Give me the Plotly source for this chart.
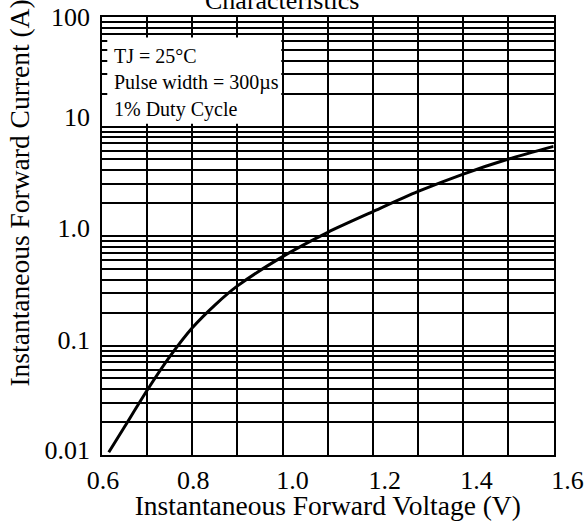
import plotly.graph_objects as go

# ---- data ----
voltage = [0.615, 0.65, 0.70, 0.75, 0.80, 0.85, 0.90, 1.00, 1.10, 1.20, 1.30, 1.40, 1.50, 1.60]
current = [0.0106, 0.0181, 0.039, 0.079, 0.145, 0.234, 0.350, 0.648, 1.08, 1.67, 2.55, 3.68, 5.05, 6.59]

x_grid = [0.6, 0.7, 0.8, 0.9, 1.0, 1.1, 1.2, 1.3, 1.4, 1.5, 1.6]
x_ticks = [0.6, 0.8, 1.0, 1.2, 1.4, 1.6]
x_tick_labels = ["0.6", "0.8", "1.0", "1.2", "1.4", "1.6"]

y_grid = [m * 10.0 ** k for k in (-2, -1, 0, 1) for m in range(1, 10)] + [100]
y_ticks = [0.01, 0.1, 1, 10, 100]
y_tick_labels = ["0.01", "0.1", "1.0", "10", "100"]

note_lines = ["TJ = 25°C", "Pulse width = 300µs", "1% Duty Cycle"]
title_text = "Characteristics"
x_title = "Instantaneous Forward Voltage (V)"
y_title = "Instantaneous Forward Current (A)"

# ---- style / placement (label nudges as in the reference artwork) ----
x_label_shift = [0.002, 0.002, 0.022, 0.026, 0.029, 0.031]   # in volts
y_label_shift = [0.046, 0.05, 0.073, 0.091, 0.0]             # in decades
FONT = "Liberation Serif"
X_RANGE = [0.6, 1.6]
PLOT_W = 451.6          # grid area width in px
PAPER_W = 485.0         # 587 - left margin
X_DOM = PLOT_W / PAPER_W
X2_RANGE = [X_RANGE[0], X_RANGE[0] + (X_RANGE[1] - X_RANGE[0]) / X_DOM]

fig = go.Figure()
fig.add_trace(go.Scatter(x=voltage, y=current, mode="lines",
                         line=dict(color="black", width=3, shape="spline", smoothing=0.8),
                         showlegend=False, hoverinfo="skip"))
# invisible companion trace so the label axes are drawn
fig.add_trace(go.Scatter(x=voltage, y=current, mode="lines", xaxis="x2", yaxis="y2",
                         line=dict(color="rgba(0,0,0,0)", width=1),
                         showlegend=False, hoverinfo="skip"))

grid_axis = dict(showgrid=True, gridcolor="black", gridwidth=2, showline=True,
                 linecolor="black", linewidth=2, mirror=True, zeroline=False,
                 ticks="", showticklabels=False, automargin=False)

fig.update_layout(
    width=587, height=521,
    margin=dict(l=102, r=0, t=17, b=66, autoexpand=False),
    paper_bgcolor="white", plot_bgcolor="rgba(0,0,0,0)",
    font=dict(family=FONT, color="black"),
    xaxis=dict(range=X_RANGE, domain=[0, X_DOM], tickvals=x_grid, anchor="y",
               title=dict(text=x_title, font=dict(family=FONT, size=27.5), standoff=40),
               **grid_axis),
    yaxis=dict(type="log", range=[-2, 2], tickvals=y_grid, anchor="x", **grid_axis),
    xaxis2=dict(domain=[0, 1], anchor="y2", side="bottom", range=X2_RANGE, showgrid=False,
                zeroline=False, showline=False, ticks="", automargin=False,
                tickvals=[v + s for v, s in zip(x_ticks, x_label_shift)],
                ticktext=x_tick_labels, tickfont=dict(family=FONT, size=26),
                ticklabelstandoff=7),
    yaxis2=dict(domain=[0, 1], anchor="x2", side="left", type="log", range=[-2, 2],
                showgrid=False, zeroline=False, showline=False, ticks="", automargin=False,
                tickvals=[v * 10 ** s for v, s in zip(y_ticks, y_label_shift)],
                ticktext=y_tick_labels, tickfont=dict(family=FONT, size=26),
                ticklabelstandoff=11),
)

# white legend box covering the grid
fig.add_shape(type="rect", xref="x domain", yref="y domain",
              x0=0.0117, x1=0.397, y0=0.756, y1=0.953,
              fillcolor="white", line=dict(width=0), layer="above")

for txt, yy in zip(note_lines, [0.911, 0.850, 0.788]):
    fig.add_annotation(text=txt, xref="paper", yref="paper", x=0.021, y=yy,
                       xanchor="left", yanchor="middle", showarrow=False,
                       font=dict(family=FONT, size=20, color="black"))

fig.add_annotation(text=title_text, xref="paper", yref="paper", x=0.372, y=1.0006,
                   xanchor="center", yanchor="bottom", showarrow=False,
                   font=dict(family=FONT, size=26, color="black"))
fig.add_annotation(text=y_title, xref="paper", yref="paper", x=-0.171, y=0.597,
                   xanchor="center", yanchor="middle", textangle=-90, showarrow=False,
                   font=dict(family=FONT, size=27.5, color="black"))

fig.write_html("out.html", config={"displayModeBar": False},
               post_script="document.body.style.margin='0';document.body.style.overflow='hidden';")
